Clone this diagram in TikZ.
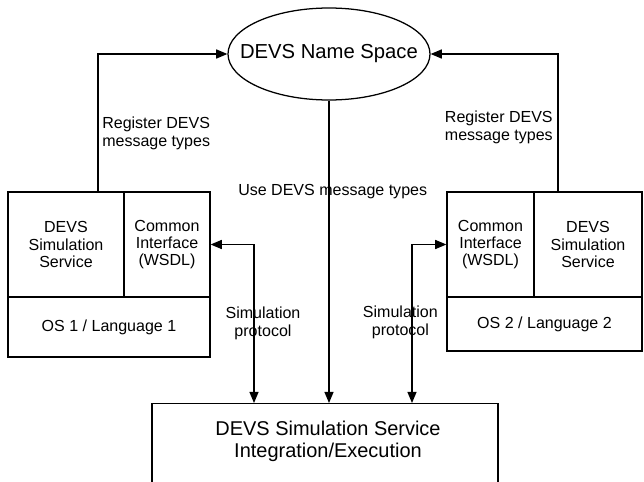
\documentclass[tikz,border=0pt]{standalone}
\usepackage{fontspec}
\setmainfont{Liberation Sans}
\usetikzlibrary{arrows.meta,shapes.geometric}

\begin{document}
\begin{tikzpicture}[
  box/.style={draw, line width=0.9pt, inner sep=0pt, align=center,
    font=\fontsize{11.4}{12.2}\selectfont},
  space/.style={draw, ellipse, line width=0.9pt, inner ysep=0pt, inner xsep=-0.45cm,
    minimum width=5.05cm, minimum height=2.3cm, font=\fontsize{14.4}{15}\selectfont},
  lbl/.style={font=\fontsize{11.4}{12.6}\selectfont, inner sep=0pt},
  arr/.style={-{Triangle[length=8pt,width=6.5pt]}, line width=0.9pt},
  darr/.style={{Triangle[length=8pt,width=6.5pt]}-{Triangle[length=8pt,width=6.5pt]}, line width=0.9pt}
]
  \useasboundingbox (0,0) rectangle (16.1,12.025);
  % Name space
  \node[space] (ns) at (8.225,10.675) {DEVS Name Space};
  % Left host
  \node[box, minimum width=2.9cm, minimum height=2.625cm] (lsvc) at (1.65,5.9125) {DEVS\\Simulation\\Service};
  \node[box, minimum width=2.15cm, minimum height=2.625cm] (lwsdl) at (4.175,5.9125) {Common\\Interface\\(WSDL)};
  \node[box, minimum width=5.05cm, minimum height=1.5cm] (los) at (2.725,3.85) {OS 1 / Language 1};
  % Right host
  \node[box, minimum width=2.175cm, minimum height=2.625cm] (rwsdl) at (12.2625,5.9125) {Common\\Interface\\(WSDL)};
  \node[box, minimum width=2.7cm, minimum height=2.625cm] (rsvc) at (14.7,5.9125) {DEVS\\Simulation\\Service};
  \node[box, minimum width=4.875cm, minimum height=1.35cm] (ros) at (13.6125,3.925) {OS 2 / Language 2};
  % Integration box
  \node[box, minimum width=8.65cm, minimum height=2.4cm, anchor=north] (integ) at (8.125,1.95) {};
  \node[font=\fontsize{14.2}{15.8}\selectfont, align=center] (integtxt) at (8.2,1.0)
    {DEVS Simulation Service\\Integration/Execution};
  % Connectors
  \draw[arr] ([xshift=0.8cm]lsvc.north) |- (ns.west);
  \draw[arr] ([xshift=-0.75cm]rsvc.north) |- (ns.east);
  \draw[arr] (ns.south) -- (ns.south |- integ.north);
  \draw[darr] (lwsdl.east) -| ([xshift=-1.775cm]integ.north);
  \draw[darr] ([xshift=2.175cm]integ.north) |- (rwsdl.west);
  % Labels
  \node[lbl, anchor=west, align=left] (regl) at (2.55,8.69) {Register DEVS\\message types};
  \node[lbl, anchor=east, align=left] (regr) at (13.825,8.85) {Register DEVS\\message types};
  \node[lbl, anchor=west] (use) at (5.95,7.225) {Use DEVS message types};
  \node[lbl, align=center] (siml) at (6.575,3.94) {Simulation\\protocol};
  \node[lbl, align=center] (simr) at (10.01,3.97) {Simulation\\protocol};
\end{tikzpicture}
\end{document}
